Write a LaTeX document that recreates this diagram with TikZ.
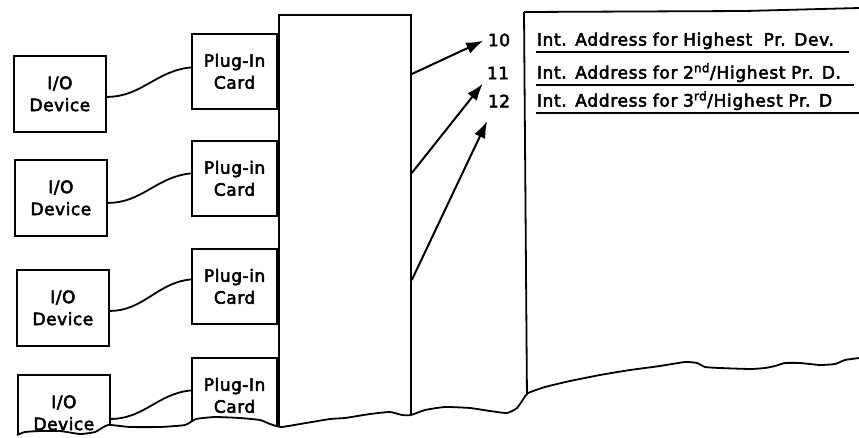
\documentclass[tikz,border=0pt]{standalone}
\usepackage{fontspec}
\setmainfont{DejaVu Sans}
\newfontfamily\lblfont[LetterSpace=3,FakeBold=3]{DejaVu Sans}
\newfontfamily\addrfont[LetterSpace=4,FakeBold=3]{DejaVu Sans}
\usetikzlibrary{arrows.meta,calc}

\newcommand\tearline{plot[smooth,tension=0.3] coordinates {(17,435) (25,432) (40,431) (60,431) (80,434) (95,432) (108,425) (130,427) (160,427) (185,425) (196,419) (215,417) (240,418) (260,420) (270,424) (281,427) (300,424) (330,419) (345,418) (370,414) (390,412) (402,415) (411,415) (425,410) (445,407) (470,408) (490,411) (507,413) (517,408) (524,398) (528,393) (545,387) (570,381) (600,375) (630,370) (660,366) (685,362) (697,363) (705,367) (720,368) (750,369) (765,368) (775,366) (785,363) (800,363) (820,365) (835,364) (845,360) (859,358)}}

\begin{document}
\begin{tikzpicture}[x=1pt,y=-1pt,line width=1.8pt,
    iodev/.style={draw,minimum width=92pt,minimum height=76pt,inner sep=0pt,align=center,anchor=north west,font={\lblfont\fontsize{17}{22}\selectfont}},
    card/.style={draw,minimum width=85pt,minimum height=75pt,inner sep=0pt,align=center,anchor=north east,font={\lblfont\fontsize{17}{22}\selectfont}},
    ptr/.style={-{Latex[length=17pt,width=12pt]},line width=2pt,shorten >=2pt},
    num/.style={inner sep=2pt,font={\lblfont\fontsize{17}{20}\selectfont}},
    addr/.style={anchor=south west,inner xsep=0pt,inner ysep=2pt,align=left,text width=#1,font={\addrfont\fontsize{17}{20}\selectfont}}]
  \useasboundingbox (0,0) rectangle (859,437);
  % Bus
  \node[draw,anchor=north west,minimum width=132pt,minimum height=440pt,inner sep=0pt] (bus) at (278,14) {};
  % I/O devices
  \node[iodev] (d1) at (13,55) {I/O\\Device};
  \node[iodev] (d2) at (14,159) {I/O\\Device};
  \node[iodev] (d3) at (16,269) {I/O\\Device};
  \node[iodev] (d4) at (17,374) {I/O\\Device};
  % Plug-in cards
  \node[card] (c1) at (bus.north west |- 0,33) {Plug-In\\Card};
  \node[card] (c2) at (bus.north west |- 0,140) {Plug-in\\Card};
  \node[card] (c3) at (bus.north west |- 0,248) {Plug-in\\Card};
  \node[card] (c4) at (bus.north west |- 0,357) {Plug-In\\Card};
  % Cables
  \draw ([yshift=-3pt]d1.east) to[out=0,in=185] ([yshift=4pt]c1.west);
  \draw ([yshift=-5pt]d2.east) to[out=0,in=185] ([yshift=5pt]c2.west);
  \draw ([yshift=-3pt]d3.east) to[out=0,in=185] ([yshift=7pt]c3.west);
  \draw ([yshift=-6pt]d4.east) to[out=0,in=185] ([yshift=5pt]c4.west);
  % Memory
  \draw (524,12) -- (745,11) -- (859,8);
  \draw (524,12) -- (527,400);
  \node[num] (n10) at (499,40) {10};
  \node[num] (n11) at (498,73) {11};
  \node[num] (n12) at (499,101) {12};
  \node[addr=311pt] (a10) at (536,52) {Int. Address for Highest~ Pr. Dev.};
  \node[addr=316pt] (a11) at (536,85) {Int. Address for 2\textsuperscript{nd}/Highest Pr. D.};
  \node[addr=323pt] (a12) at (536,113) {Int. Address for 3\textsuperscript{rd}/Highest Pr. D};
  \draw (a10.south west) -- (a10.south east);
  \draw (a11.south west) -- (a11.south east);
  \draw (a12.south west) -- (a12.south east);
  % Interrupt vectors
  \draw[ptr] ([yshift=-60pt]bus.north east) -- (n10.west);
  \draw[ptr] ([yshift=-159pt]bus.north east) -- (n11.south west);
  \draw[ptr] ([yshift=-266pt]bus.north east) -- ([shift={(3pt,-9pt)}]n12.south west);
  % Torn edge
  \fill[white] \tearline -- (859,460) -- (17,460) -- cycle;
  \draw \tearline;
\end{tikzpicture}
\end{document}
